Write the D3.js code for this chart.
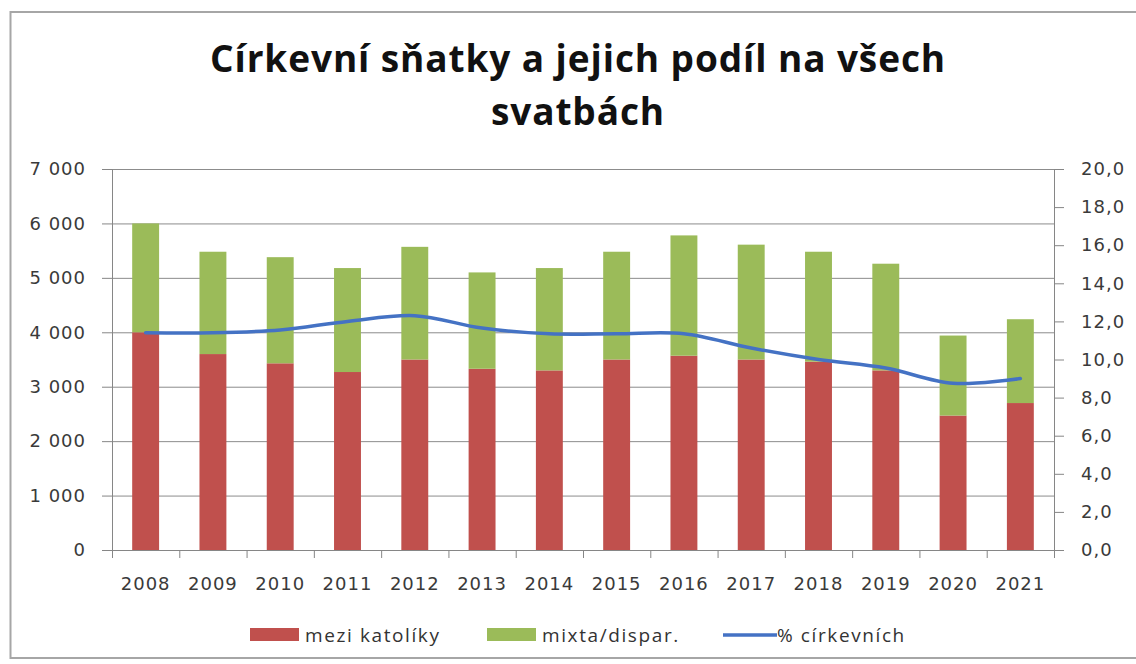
<!DOCTYPE html>
<html>
<head>
<meta charset="utf-8">
<script src="https://cdn.jsdelivr.net/npm/d3@7"></script>
<style>
  body { margin: 0; background: #fff; }
  svg { display: block; }
</style>
</head>
<body>
<div id="chart"></div>
<script>
// data
var years = ["2008", "2009", "2010", "2011", "2012", "2013", "2014", "2015", "2016", "2017", "2018", "2019", "2020", "2021"];
var meziKatoliky = [4000, 3600, 3430, 3270, 3500, 3330, 3300, 3500, 3570, 3500, 3460, 3300, 2470, 2700];
var mixta = [2000, 1880, 1950, 1910, 2070, 1770, 1880, 1980, 2210, 2110, 2020, 1960, 1470, 1540];
var procentCirkevnich = [11.4, 11.4, 11.55, 12.0, 12.3, 11.65, 11.35, 11.35, 11.35, 10.6, 10.0, 9.55, 8.75, 9.0];
var leftTicks = [0, 1000, 2000, 3000, 4000, 5000, 6000, 7000];
var rightTicks = [0, 2, 4, 6, 8, 10, 12, 14, 16, 18, 20];
var seriesNames = ["mezi katolíky", "mixta/dispar.", "% církevních"];

var W = 1136, H = 664;
var margin = { top: 169, right: 82, bottom: 114, left: 112 },
    width = W - margin.left - margin.right,
    height = H - margin.top - margin.bottom;

var cz = d3.formatLocale({ decimal: ",", thousands: "\u00a0", grouping: [3], currency: ["", " Kč"] });

var svg = d3.select("#chart").append("svg")
    .attr("width", W)
    .attr("height", H);

// outer frame
svg.append("rect")
    .attr("x", 10.5).attr("y", 12)
    .attr("width", W).attr("height", 646)
    .attr("fill", "none")
    .attr("stroke", "#a6a6a6")
    .attr("stroke-width", 2);

// title
var title = svg.append("text")
    .attr("text-anchor", "middle")
    .style("font-family", "'Open Sans'")
    .style("font-weight", "700")
    .style("font-size", "37px")
    .style("letter-spacing", "0.9px")
    .attr("fill", "#111");
title.append("tspan").attr("x", 578).attr("y", 72).text("Církevní sňatky a jejich podíl na všech");
title.append("tspan").attr("x", 578).attr("y", 125).text("svatbách");

var g = svg.append("g")
    .attr("transform", "translate(" + margin.left + "," + margin.top + ")");

var x = d3.scaleBand().domain(years).range([0, width]).paddingInner(0.6).paddingOuter(0.3);
var xb = d3.scaleLinear().domain([0, years.length]).range([0, width]);
var y = d3.scaleLinear().domain([0, 7000]).range([height, 0]);
var y2 = d3.scaleLinear().domain([0, 20]).range([height, 0]);

// gridlines
g.append("g")
    .attr("class", "grid")
    .call(d3.axisLeft(y).tickValues(leftTicks).tickSize(-width).tickFormat(""))
    .call(function (s) { s.select(".domain").remove(); })
    .selectAll("line")
    .attr("stroke", "#8c8c8c");

// stacked bars
var rows = years.map(function (yr, i) { return { year: yr, a: meziKatoliky[i], b: mixta[i] }; });
var stack = d3.stack().keys(["a", "b"])(rows);
var colors = ["#c0504d", "#9bbb59"];

g.selectAll("g.layer")
    .data(stack)
    .join("g")
    .attr("class", "layer")
    .attr("fill", function (d, i) { return colors[i]; })
    .selectAll("rect")
    .data(function (d) { return d; })
    .join("rect")
    .attr("x", function (d) { return x(d.data.year); })
    .attr("width", x.bandwidth())
    .attr("y", function (d) { return y(d[1]); })
    .attr("height", function (d) { return y(d[0]) - y(d[1]); });

// axes
var axisColor = "#868686", textColor = "#3a3a3a";

var leftAxis = g.append("g")
    .call(d3.axisLeft(y).tickValues(leftTicks).tickSize(10).tickPadding(16).tickFormat(cz.format(",")));

var rightAxis = g.append("g")
    .attr("transform", "translate(" + width + ",0)")
    .call(d3.axisRight(y2).tickValues(rightTicks).tickSize(10).tickPadding(17).tickFormat(cz.format(".1f")));

var bottomAxis = g.append("g")
    .attr("transform", "translate(0," + height + ")")
    .call(d3.axisBottom(xb).ticks(years.length).tickSize(8).tickFormat(""));

[leftAxis, rightAxis, bottomAxis].forEach(function (a) {
    a.selectAll("path, line").attr("stroke", axisColor);
    a.selectAll("text")
        .attr("fill", textColor)
        .style("font-family", "'DejaVu Sans'")
        .style("font-size", "18px")
        .style("letter-spacing", "1px");
});

g.append("g")
    .selectAll("text")
    .data(years)
    .join("text")
    .attr("x", function (d) { return x(d) + x.bandwidth() / 2; })
    .attr("y", height + 40)
    .attr("text-anchor", "middle")
    .attr("fill", textColor)
    .style("font-family", "'DejaVu Sans'")
    .style("font-size", "18px")
    .style("letter-spacing", "1px")
    .text(function (d) { return d; });

// line on right axis
var line = d3.line()
    .x(function (d, i) { return x(years[i]) + x.bandwidth() / 2; })
    .y(function (d) { return y2(d); })
    .curve(d3.curveCatmullRom.alpha(0.5));

g.append("path")
    .datum(procentCirkevnich)
    .attr("fill", "none")
    .attr("stroke", "#4472c4")
    .attr("stroke-width", 3.5)
    .attr("stroke-linecap", "round")
    .attr("d", line);

// legend
var legend = svg.append("g").attr("transform", "translate(0,635)");
var legItems = [
    { name: seriesNames[0], color: colors[0], type: "rect", x: 250, tx: 305 },
    { name: seriesNames[1], color: colors[1], type: "rect", x: 487, tx: 542 },
    { name: seriesNames[2], color: "#4472c4", type: "line", x: 723, tx: 777 }
];
legItems.forEach(function (it) {
    if (it.type === "rect") {
        legend.append("rect")
            .attr("x", it.x).attr("y", -7)
            .attr("width", 49).attr("height", 13)
            .attr("fill", it.color);
    } else {
        legend.append("line")
            .attr("x1", it.x).attr("x2", it.tx)
            .attr("y1", 0).attr("y2", 0)
            .attr("stroke", it.color)
            .attr("stroke-width", 3.5);
    }
    legend.append("text")
        .attr("x", it.tx).attr("y", 0)
        .attr("dy", "0.35em")
        .attr("fill", "#333")
        .style("font-family", "'Open Sans'")
        .style("font-size", "19px")
        .style("letter-spacing", "1.6px")
        .text(it.name);
});
</script>
</body>
</html>
